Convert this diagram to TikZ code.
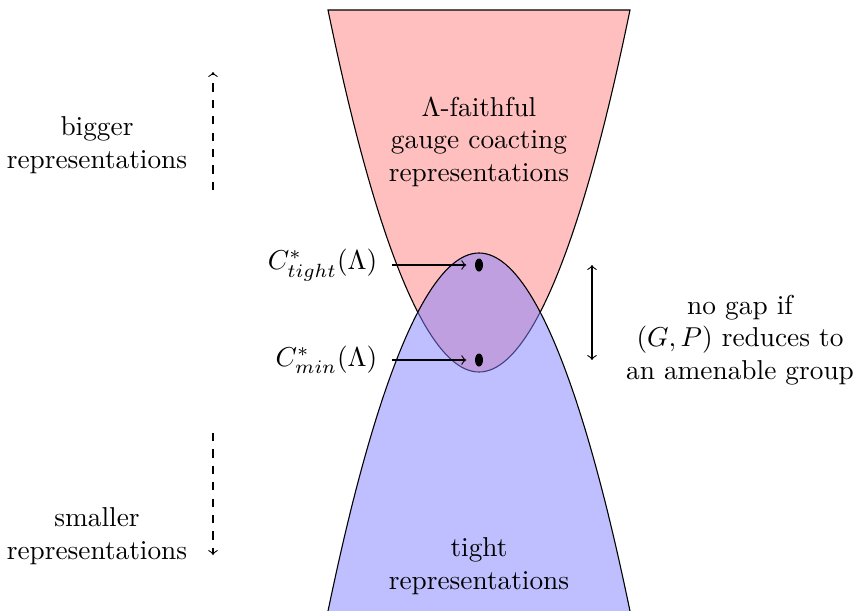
\documentclass[tikz,border=0pt]{standalone}
\usetikzlibrary{shapes.geometric}
\begin{document}
\begin{tikzpicture}[x=0.366pt,y=-0.366pt,
  redfill/.style={fill=red!50,fill opacity=0.5},
  bluefill/.style={fill=blue!50,fill opacity=0.5},
  txt/.style={align=center,inner sep=0pt},
  dotnode/.style={ellipse,fill=black,minimum width=8*0.366pt,minimum height=13*0.366pt,inner sep=0pt},
  arr/.style={->},
  darr/.style={->,dashed}]
\useasboundingbox (0,0) rectangle (857,611);
% red region
\fill[redfill] (328,10) parabola bend (479,372) (630,10) -- cycle;
\draw (328,10) parabola bend (479,372) (630,10) -- cycle;
% blue region
\fill[bluefill] (328,611) parabola bend (479,253) (630,611) -- cycle;
\draw (328,611) parabola bend (479,253) (630,611);
% region texts
\node[txt] (redtxt) at (479,142) {$\Lambda$-faithful\\gauge coacting\\representations};
\node[txt] (bluetxt) at (479,566) {tight\\representations};
% dots
\node[dotnode] (dtight) at (479,265) {};
\node[dotnode] (dmin) at (479,360) {};
% labels
\node[anchor=east] (ltight) at (387,265) {$C^*_{tight}(\Lambda)$};
\node[anchor=east] (lmin) at (387,360) {$C^*_{min}(\Lambda)$};
\draw[arr,shorten >=3pt] (ltight.east) ++(5,0) coordinate (st) (st) -- (dtight.west);
\draw[arr,shorten >=3pt] (lmin.east) ++(5,0) coordinate (sm) (sm) -- (dmin.west);
% right double arrow
\coordinate (gt) at (592,265);
\coordinate (gb) at (592,360);
\draw[<->] (gt) -- (gb);
\node[txt] (gap) at (740,340) {no gap if\\$(G,P)$ reduces to\\an amenable group};
% left dashed arrows
\coordinate (ub) at (213,190);
\coordinate (ut) at (213,72);
\draw[darr] (ub) -- (ut);
\node[txt] (big) at (97,145) {bigger\\representations};
\coordinate (dt) at (213,433);
\coordinate (db) at (213,555);
\draw[darr] (dt) -- (db);
\node[txt] (small) at (97,536) {smaller\\representations};
\end{tikzpicture}
\end{document}
